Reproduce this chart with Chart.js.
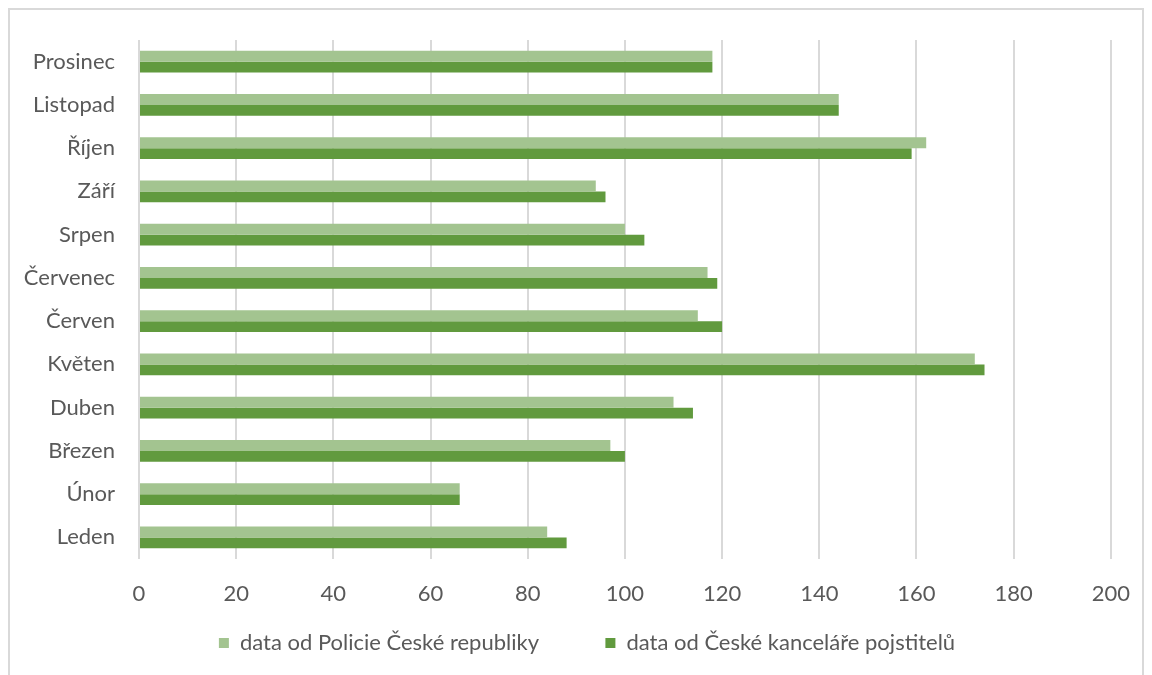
<!DOCTYPE html>
<html>
<head>
<meta charset="utf-8">
<script src="https://cdn.jsdelivr.net/npm/chart.js@4"></script>
<style>
  body { margin: 0; background: #fff; }
</style>
</head>
<body>
<canvas id="myChart" width="1152" height="675"></canvas>
<script>
// months listed top to bottom
const months = ['Prosinec', 'Listopad', 'Říjen', 'Září', 'Srpen', 'Červenec', 'Červen', 'Květen', 'Duben', 'Březen', 'Únor', 'Leden'];
const policie = [118, 144, 162, 94, 100, 117, 115, 172, 110, 97, 66, 84];
const ckp = [118, 144, 159, 96, 104, 119, 120, 174, 114, 100, 66, 88];
const xMin = 0, xMax = 200, xStep = 20;

const FONT = "Lato";
const TEXT = "#595959";
const GRID = "#d9d9d9";

// light frame around the whole chart
const frame = {
  id: 'frame',
  beforeDraw(chart) {
    const c = chart.ctx;
    c.save();
    c.strokeStyle = GRID;
    c.lineWidth = 2;
    c.strokeRect(9, 9, 1134, 700);
    c.restore();
  }
};

const ctx = document.getElementById('myChart');

new Chart(ctx, {
  type: 'bar',
  data: {
    labels: months,
    datasets: [{
      label: 'data od Policie České republiky',
      data: policie,
      backgroundColor: '#a3c490',
      borderWidth: 0
    }, {
      label: 'data od České kanceláře pojstitelů',
      data: ckp,
      backgroundColor: '#619a3e',
      borderWidth: 0
    }]
  },
  plugins: [frame],
  options: {
    indexAxis: 'y',
    responsive: false,
    animation: false,
    categoryPercentage: 0.5,
    barPercentage: 1.0,
    layout: {
      padding: { top: 40, right: 0, bottom: 11, left: 22 }
    },
    plugins: {
      tooltip: { enabled: false },
      legend: {
        position: 'bottom',
        labels: {
          color: TEXT,
          boxWidth: 10,
          boxHeight: 10,
          padding: 27,
          font: { family: FONT, size: 22 },
          // wider gap after the first entry
          generateLabels(chart) {
            const items = Chart.defaults.plugins.legend.labels.generateLabels(chart);
            items[0].text += '       ';
            return items;
          }
        }
      }
    },
    scales: {
      x: {
        type: 'linear',
        min: xMin,
        max: xMax,
        afterFit(scale) { scale.height = 46; },
        border: { display: false },
        grid: { color: GRID, lineWidth: 2, drawTicks: false },
        ticks: {
          stepSize: xStep,
          color: TEXT,
          padding: 22,
          font: { family: FONT, size: 22 }
        }
      },
      y: {
        afterFit(scale) { scale.width = 117; },
        border: { display: false },
        grid: { display: false },
        ticks: {
          color: TEXT,
          padding: 16,
          font: { family: FONT, size: 22 }
        }
      },
      // empty strip on the right of the plot
      y2: {
        type: 'linear',
        position: 'right',
        afterFit(scale) { scale.width = 40; },
        border: { display: false },
        grid: { display: false },
        ticks: { display: false }
      }
    }
  }
});
</script>
</body>
</html>
